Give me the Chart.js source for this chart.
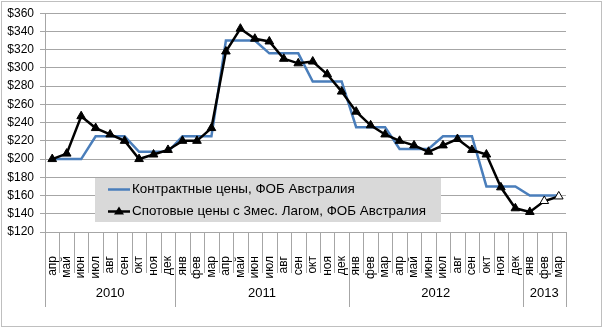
<!DOCTYPE html>
<html lang="ru">
<head>
  <meta charset="UTF-8">
  <title>Контрактные и спотовые цены, ФОБ Австралия</title>
  <script src="https://cdn.jsdelivr.net/npm/chart.js"></script>
  <style>
    body { margin: 0; background: #fff; }
  </style>
</head>
<body>
  <canvas id="grafico" width="604" height="330"></canvas>

<script>
  // months on the x axis, grouped by year below
  const months = [
    'апр', 'май', 'июн', 'июл', 'авг', 'сен', 'окт', 'ноя', 'дек',
    'янв', 'фев', 'мар', 'апр', 'май', 'июн', 'июл', 'авг', 'сен', 'окт', 'ноя', 'дек',
    'янв', 'фев', 'мар', 'апр', 'май', 'июн', 'июл', 'авг', 'сен', 'окт', 'ноя', 'дек',
    'янв', 'фев', 'мар'
  ];
  const years = ['2010', '2011', '2012', '2013'];
  const monthsPerYear = [9, 12, 12, 3];

  const contractPrices = [
    200, 200, 200, 225, 225, 225, 208, 208, 208,
    225, 225, 225, 330, 330, 330, 316, 316, 316, 285, 285, 285,
    235, 235, 235, 211, 211, 211, 225, 225, 225, 170, 170, 170,
    160, 160, 160
  ];
  const spotPrices = [
    200, 206, 247, 234, 227, 220, 200, 205, 210,
    220, 220, 234, 318, 343, 332, 329, 310, 305, 307, 293, 274,
    252, 237, 227, 220, 215, 208, 215, 222, 210, 205, 169, 146,
    142, 154, 159
  ];
  // last two spot points are forecasts (white markers)
  const forecastFrom = 34;

  const yMin = 120, yMax = 360, yStep = 20;

  const contractLabel = 'Контрактные цены, ФОБ Австралия';
  const spotLabel = 'Спотовые цены с 3мес. Лагом, ФОБ Австралия';

  const blue = '#4a7ebb';
  const gridColor = '#a6a6a6';
  const fontFamily = '"Liberation Sans", Arial, sans-serif';

  // draws the month dividers, year dividers and year labels under the x axis
  const axisGroups = {
    id: 'axisGroups',
    afterDraw(chart) {
      const ctx = chart.ctx;
      const x = chart.scales.x;
      const bottom = chart.chartArea.bottom;
      const half = (x.getPixelForValue(1) - x.getPixelForValue(0)) / 2;

      const edges = [0];
      let soma = 0;
      monthsPerYear.forEach(function (n) { soma += n; edges.push(soma); });

      ctx.save();
      ctx.strokeStyle = gridColor;
      ctx.lineWidth = 1;
      for (let i = 0; i <= months.length; i++) {
        const px = Math.round(x.getPixelForValue(i) - half) + 0.5;
        const len = edges.includes(i) ? 75 : 41;
        ctx.beginPath();
        ctx.moveTo(px, bottom);
        ctx.lineTo(px, bottom + len);
        ctx.stroke();
      }

      ctx.fillStyle = '#000';
      ctx.font = '13px ' + fontFamily;
      ctx.textAlign = 'center';
      ctx.textBaseline = 'middle';
      for (let k = 0; k < years.length; k++) {
        const a = x.getPixelForValue(edges[k]) - half;
        const b = x.getPixelForValue(edges[k + 1]) - half;
        ctx.fillText(years[k], (a + b) / 2, bottom + 61);
      }

      // outer chart border
      ctx.strokeStyle = '#bfbfbf';
      ctx.strokeRect(1.5, 1.5, chart.width - 4, chart.height - 5);
      ctx.restore();
    }
  };

  // legend box drawn inside the plot area
  const legendBox = {
    id: 'legendBox',
    afterDatasetsDraw(chart) {
      const ctx = chart.ctx;
      const ds = chart.data.datasets;
      ctx.save();
      ctx.fillStyle = '#d9d9d9';
      ctx.fillRect(95, 178, 346, 44);

      ctx.font = '13.4px ' + fontFamily;
      ctx.textBaseline = 'middle';
      ctx.textAlign = 'left';

      const rows = [189.5, 211.5];
      for (let i = 0; i < ds.length; i++) {
        const y = rows[i];
        ctx.strokeStyle = ds[i].borderColor;
        ctx.lineWidth = 2.5;
        ctx.beginPath();
        ctx.moveTo(108, y);
        ctx.lineTo(130, y);
        ctx.stroke();
        if (ds[i].pointStyle === 'triangle') {
          ctx.fillStyle = '#000';
          ctx.beginPath();
          ctx.moveTo(119, y - 5);
          ctx.lineTo(124, y + 3);
          ctx.lineTo(114, y + 3);
          ctx.closePath();
          ctx.fill();
        }
        ctx.fillStyle = '#000';
        ctx.fillText(ds[i].label, 132, y);
      }
      ctx.restore();
    }
  };

  const pointFill = spotPrices.map(function (v, i) { return i >= forecastFrom ? '#fff' : '#000'; });

  new Chart(document.getElementById('grafico').getContext('2d'), {
    type: 'line',
    data: {
      labels: months,
      datasets: [{
        label: contractLabel,
        data: contractPrices,
        borderColor: blue,
        backgroundColor: blue,
        borderWidth: 2.5,
        pointRadius: 0,
        tension: 0,
        order: 1
      }, {
        label: spotLabel,
        data: spotPrices,
        borderColor: '#000',
        backgroundColor: '#000',
        borderWidth: 2.5,
        pointStyle: 'triangle',
        pointRadius: 5,
        pointBorderWidth: 1,
        pointBorderColor: '#000',
        pointBackgroundColor: pointFill,
        tension: 0,
        order: 0
      }]
    },
    options: {
      responsive: false,
      animation: false,
      layout: { padding: { top: 3, right: 38, bottom: 0, left: 0 } },
      plugins: {
        legend: { display: false },
        tooltip: { enabled: false }
      },
      scales: {
        x: {
          offset: true,
          grid: { display: false },
          border: { display: false },
          ticks: {
            autoSkip: false,
            minRotation: 90,
            maxRotation: 90,
            padding: 16,
            color: '#000',
            font: { family: fontFamily, size: 12 }
          },
          afterFit: function (scale) { scale.height = 98; }
        },
        y: {
          min: yMin,
          max: yMax,
          grid: { color: gridColor, tickLength: 5 },
          border: { color: gridColor },
          ticks: {
            stepSize: yStep,
            padding: 6,
            color: '#000',
            font: { family: fontFamily, size: 12 },
            callback: function (v) { return '$' + v; }
          },
          afterFit: function (scale) { scale.width = 45; }
        }
      }
    },
    plugins: [axisGroups, legendBox]
  });
</script>
</body>
</html>
